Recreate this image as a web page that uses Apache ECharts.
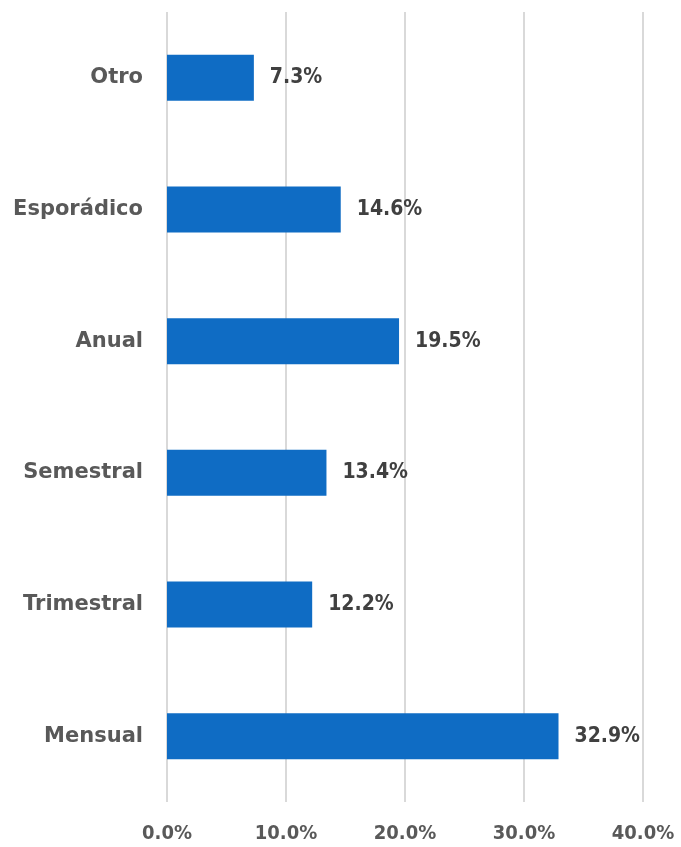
<!DOCTYPE html>
<html><head><meta charset="utf-8">
<script src="https://cdn.jsdelivr.net/npm/echarts@6/dist/echarts.min.js"></script>
<style>html,body{margin:0;padding:0;background:#fff}#c{width:681px;height:847px}</style>
</head><body><div id="c"></div>
<script>
const categories = ['Mensual','Trimestral','Semestral','Anual','Esporádico','Otro'];
const values = [32.9, 12.2, 13.4, 19.5, 14.6, 7.3];
const xTicks = [0, 10, 20, 30, 40];
const font = '"DejaVu Sans", sans-serif';
const numFont = '"DejaVu Sans Condensed", "DejaVu Sans", sans-serif';
const chart = echarts.init(document.getElementById('c'));
chart.setOption({
  animation: false,
  grid: {left: 167, right: 38, top: 12, bottom: 45, containLabel: false},
  xAxis: {
    type: 'value', min: xTicks[0], max: xTicks[xTicks.length-1], interval: 10,
    axisLine: {show: false}, axisTick: {show: false},
    splitLine: {lineStyle: {color: '#D9D9D9', width: 2}},
    axisLabel: {margin: 22, color: '#595959', fontSize: 20, fontWeight: 'bold', fontFamily: numFont,
      formatter: v => v.toFixed(1) + '%'}
  },
  yAxis: {
    type: 'category', data: categories,
    axisLine: {show: false}, axisTick: {show: false},
    axisLabel: {margin: 24, color: '#595959', fontSize: 21, fontWeight: 'bold', fontFamily: font}
  },
  series: [{
    type: 'bar', data: values, barWidth: 46,
    itemStyle: {color: '#0F6CC4'},
    label: {show: true, position: 'right', distance: 16, color: '#404040', fontSize: 21,
      fontWeight: 'bold', fontFamily: numFont, formatter: p => p.value.toFixed(1) + '%'}
  }]
});
</script></body></html>
